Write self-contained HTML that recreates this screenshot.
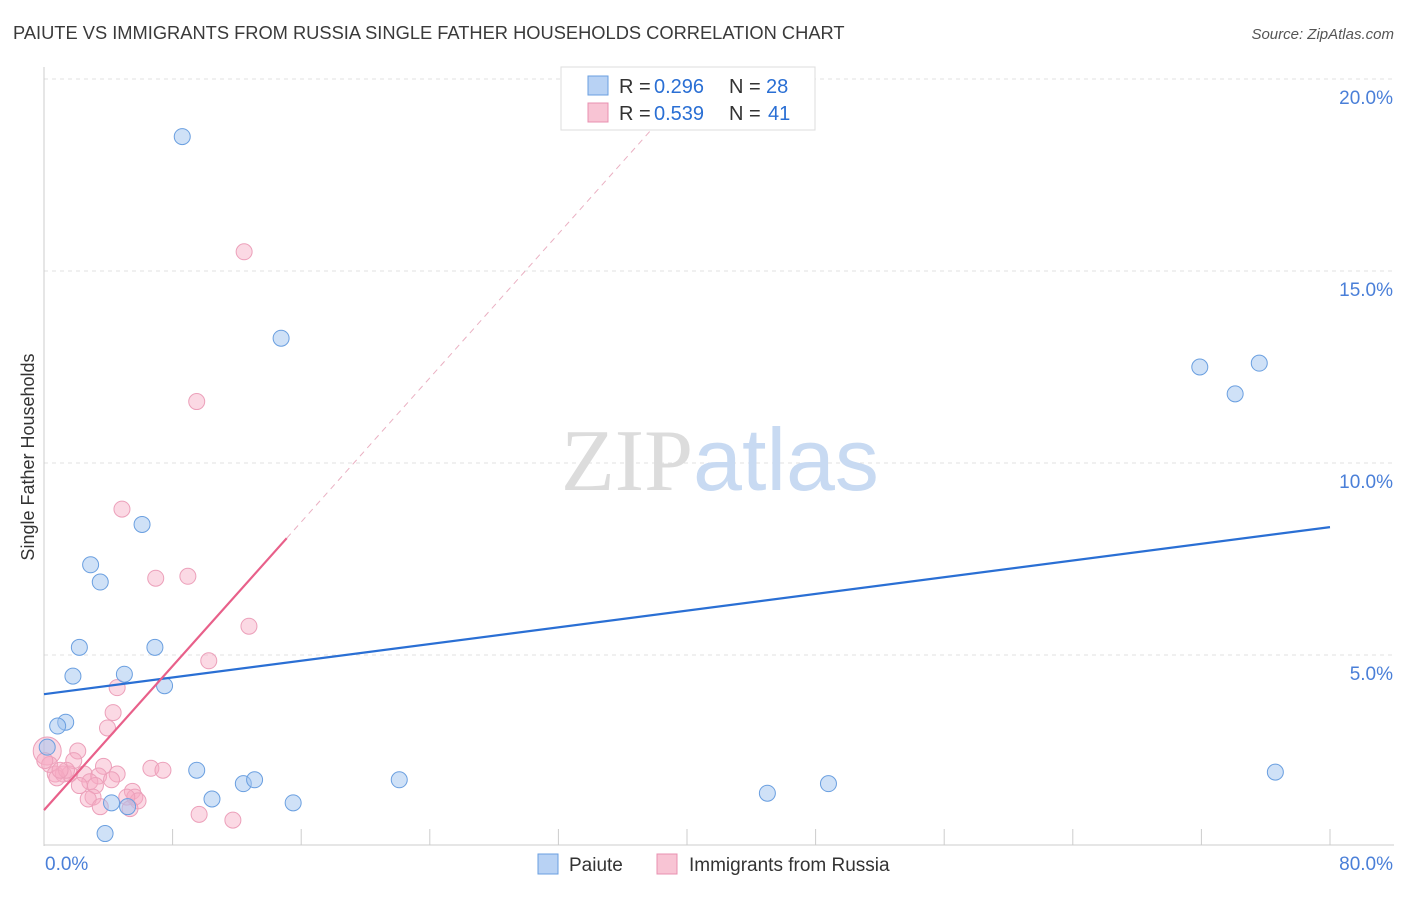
<!DOCTYPE html>
<html><head><meta charset="utf-8"><style>
body{margin:0;background:#fff;font-family:"Liberation Sans",sans-serif;}
svg text{font-family:"Liberation Sans",sans-serif;}
</style></head><body>
<svg id="chart" width="1406" height="892" xmlns="http://www.w3.org/2000/svg">
<text x="13" y="39" font-size="18.3" fill="#3a3a3a">PAIUTE VS IMMIGRANTS FROM RUSSIA SINGLE FATHER HOUSEHOLDS CORRELATION CHART</text>
<text x="1394" y="39" font-size="15" fill="#555" text-anchor="end" font-style="italic">Source: ZipAtlas.com</text>
<text transform="translate(34,457) rotate(-90)" font-size="18" fill="#333" text-anchor="middle">Single Father Households</text>
<g id="grid"></g>
<text x="720" y="490" font-size="88" text-anchor="middle"><tspan fill="#dcdcdc" font-family="Liberation Serif">ZIP</tspan><tspan fill="#c8daf2">atlas</tspan></text>
<g id="marks"></g>
<g>
<rect x="561" y="67" width="254" height="63" fill="#fff" stroke="#ddd"/>
<rect x="588" y="76" width="20" height="19" fill="#b8d2f4" stroke="#6a9fe0"/>
<text x="619" y="93" font-size="20" fill="#333">R =</text>
<text x="654" y="93" font-size="20" fill="#2a6fd4">0.296</text>
<text x="729" y="93" font-size="20" fill="#333">N =</text>
<text x="766" y="93" font-size="20" fill="#2a6fd4">28</text>
<rect x="588" y="103" width="20" height="19" fill="#f8c4d4" stroke="#e890b0"/>
<text x="619" y="120" font-size="20" fill="#333">R =</text>
<text x="654" y="120" font-size="20" fill="#2a6fd4">0.539</text>
<text x="729" y="120" font-size="20" fill="#333">N =</text>
<text x="768" y="120" font-size="20" fill="#2a6fd4">41</text>
</g>
<g>
<rect x="538" y="854" width="20" height="20" fill="#b8d2f4" stroke="#6a9fe0"/>
<text x="569" y="871" font-size="19" fill="#333">Paiute</text>
<rect x="657" y="854" width="20" height="20" fill="#f8c4d4" stroke="#e890b0"/>
<text x="689" y="871" font-size="19" fill="#333">Immigrants from Russia</text>
</g>
</svg>
<script>
const yTicks=[5,10,15,20];
const yTickLabels=["5.0%","10.0%","15.0%","20.0%"];
const xTickLabels=["0.0%","80.0%"];
const paiuteX=[8.6,14.75,6.1,2.9,3.5,2.2,6.9,1.8,5.0,7.5,1.35,0.85,0.2,9.5,12.4,13.1,22.1,10.45,15.5,4.2,5.2,3.8,45.0,48.8,71.9,75.6,74.1,76.6];
const paiuteY=[18.5,13.25,8.4,7.35,6.9,5.2,5.2,4.45,4.5,4.2,3.25,3.15,2.6,2.0,1.65,1.75,1.75,1.25,1.15,1.15,1.05,0.35,1.4,1.65,12.5,12.6,11.8,1.95];
const russiaX=[12.45,9.5,4.85,6.95,8.95,12.75,10.25,4.55,4.3,3.95,2.1,0.2,1.85,0.35,3.7,6.65,7.4,0.7,1.2,1.6,2.5,3.4,4.55,0.8,2.85,4.2,3.2,2.2,5.5,3.05,2.75,5.65,5.85,5.15,3.5,5.35,9.65,11.75,1.4,0.05,1.0];
const russiaY=[15.5,11.6,8.8,7.0,7.05,5.75,4.85,4.15,3.5,3.1,2.5,2.5,2.25,2.15,2.1,2.05,2.0,1.9,1.9,1.9,1.9,1.85,1.9,1.8,1.7,1.75,1.6,1.6,1.45,1.3,1.25,1.3,1.2,1.3,1.05,1.0,0.85,0.7,2.0,2.25,2.0];
const paiuteTrend=[3.98,8.33];
const russiaTrend=[0.96,0.469];

const X=v=>44+v*16.075, Y=v=>847-v*38.4;
const NS="http://www.w3.org/2000/svg";
function mk(tag,attrs,parent){const e=document.createElementNS(NS,tag);for(const k in attrs)e.setAttribute(k,attrs[k]);parent.appendChild(e);return e;}
const grid=document.getElementById('grid'), marks=document.getElementById('marks');
yTicks.forEach((t,i)=>{
  const l=mk('line',{x1:44,x2:1394,y1:Y(t),y2:Y(t),stroke:'#e2e2e2','stroke-dasharray':'4,4'},grid);
  
  
  const tx=mk('text',{x:1393,y:Y(t)+25,'font-size':19,fill:'#4a7fd8','text-anchor':'end'},grid);
  tx.textContent=yTickLabels[i];
  
  
});
const ya=mk('line',{x1:44,x2:44,y1:67,y2:846,stroke:'#ccc'},grid);


const xa=mk('line',{x1:44,x2:1394,y1:845,y2:845,stroke:'#ccc'},grid);


for(let i=0;i<=10;i++){
  const t=mk('line',{x1:X(i*8),x2:X(i*8),y1:829,y2:845,stroke:'#ccc'},grid);
  
  
}
[[0,'start',45],[80,'end',1393]].forEach((d,i)=>{
  const tx=mk('text',{x:d[2],y:870,'font-size':19,fill:'#4a7fd8','text-anchor':d[1]},grid);
  tx.textContent=xTickLabels[i];
  
  
});
russiaX.forEach((x,i)=>{
  const c=mk('circle',{cx:X(x),cy:Y(russiaY[i]),r:i==11?14:8,fill:'rgba(246,170,196,0.45)',stroke:'#eca0ba','stroke-width':1},marks);
  
  
});
paiuteX.forEach((x,i)=>{
  const c=mk('circle',{cx:X(x),cy:Y(paiuteY[i]),r:8,fill:'rgba(160,196,240,0.5)',stroke:'#6a9fe0','stroke-width':1},marks);
  
  
});
const pl=mk('line',{x1:X(0),y1:Y(paiuteTrend[0]),x2:X(80),y2:Y(paiuteTrend[1]),stroke:'#2a6fd4','stroke-width':2.2},marks);


const rl=mk('line',{x1:X(0),y1:Y(russiaTrend[0]),x2:X(15.1),y2:Y(russiaTrend[0]+russiaTrend[1]*15.1),stroke:'#e8608a','stroke-width':2.2},marks);


const rd=mk('line',{x1:X(15.1),y1:Y(russiaTrend[0]+russiaTrend[1]*15.1),x2:X(40.6),y2:Y(russiaTrend[0]+russiaTrend[1]*40.6),stroke:'#eab0c2','stroke-width':1,'stroke-dasharray':'6,5'},marks);


</script>
</body></html>
